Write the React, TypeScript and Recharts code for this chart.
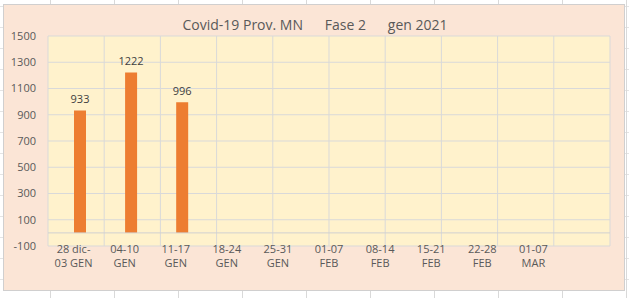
import React from "react";
import {
  BarChart,
  Bar,
  XAxis,
  YAxis,
  CartesianGrid,
  LabelList,
  ReferenceLine,
} from "recharts";

const categories = [
  "28 dic-\n03 GEN",
  "04-10\nGEN",
  "11-17\nGEN",
  "18-24\nGEN",
  "25-31\nGEN",
  "01-07\nFEB",
  "08-14\nFEB",
  "15-21\nFEB",
  "22-28\nFEB",
  "01-07\nMAR",
  "",
];
const emptySeries: (number | null)[] = [null, null, null, null, null, null, null, null, null, null, null];
const casi: (number | null)[] = [933, 1222, 996, null, null, null, null, null, null, null, null];
const yTicks = [-100, 100, 300, 500, 700, 900, 1100, 1300, 1500];
const gridTicks = [0, 1, 2, 3, 4, 5, 6, 7, 8, 9, 10, 11];
const title = "Covid-19 Prov. MN      Fase 2      gen 2021";

const data = categories.map((c, i) => ({
  cat: c,
  vuoto: emptySeries[i],
  casi: casi[i],
}));

const FONT = "'Open Sans', 'Noto Sans', sans-serif";

const CatTick = (props: any) => {
  const { x, y, payload } = props;
  const lines = String(payload.value).split("\n");
  return (
    <g transform={`translate(${x},${y})`}>
      {lines.map((l: string, i: number) => (
        <text
          key={i}
          x={0}
          y={i * 14}
          dy={7}
          textAnchor="middle"
          fill="#595959"
          fontSize={11}
          fontFamily={FONT}
        >
          {l}
        </text>
      ))}
    </g>
  );
};

export default function App() {
  return (
    <div
      style={{
        position: "absolute",
        left: 0,
        top: 0,
        width: 629,
        height: 298,
        background: "#ffffff",
        backgroundImage:
          "linear-gradient(to right, #d9d9d9 1px, transparent 1px), linear-gradient(to bottom, #e4e4e4 1px, transparent 1px)",
        backgroundSize: "64px 21px",
        backgroundPosition: "50px 6px",
        overflow: "hidden",
      }}
    >
      <div
        style={{
          position: "absolute",
          left: 3,
          top: 4,
          width: 622,
          height: 287,
          background: "#FBE5D6",
          border: "1px solid #d0cfcf",
          boxSizing: "border-box",
        }}
      >
        <div
          style={{
            position: "absolute",
            left: 0,
            top: 11,
            width: 622,
            textAlign: "center",
            whiteSpace: "pre",
            fontFamily: FONT,
            fontSize: 14,
            color: "#595959",
            lineHeight: "18px",
          }}
        >
          {title}
        </div>
        <BarChart
          width={620}
          height={285}
          data={data}
          margin={{ top: 31, right: 14, bottom: 0, left: 0 }}
          barSize={12}
          barGap={0}
          style={{ position: "absolute", left: 0, top: 0 }}
        >
          <CartesianGrid
            xAxisId="grid"
            stroke="#d9d9d9"
            fill="#FFF2CC"
            fillOpacity={1}
            horizontal={true}
            vertical={true}
          />
          <XAxis
            dataKey="cat"
            axisLine={false}
            tickLine={false}
            interval={0}
            height={44}
            tick={<CatTick />}
            tickMargin={0}
            tickSize={0}
          />
          <XAxis
            xAxisId="grid"
            type="number"
            domain={[0, 11]}
            ticks={gridTicks}
            hide
          />
          <YAxis
            domain={[-100, 1500]}
            ticks={yTicks}
            interval={0}
            width={44}
            axisLine={false}
            tickLine={false}
            tickSize={0}
            tickMargin={12}
            tick={{ fill: "#595959", fontSize: 11, fontFamily: FONT }}
          />
          <ReferenceLine y={0} stroke="#d0d0d0" strokeWidth={1} />
          <Bar dataKey="vuoto" fill="#5B9BD5" isAnimationActive={false} />
          <Bar dataKey="casi" fill="#ED7D31" isAnimationActive={false}>
            <LabelList
              dataKey="casi"
              position="top"
              offset={7}
              fill="#404040"
              fontSize={11}
              fontFamily={FONT}
            />
          </Bar>
        </BarChart>
      </div>
    </div>
  );
}
